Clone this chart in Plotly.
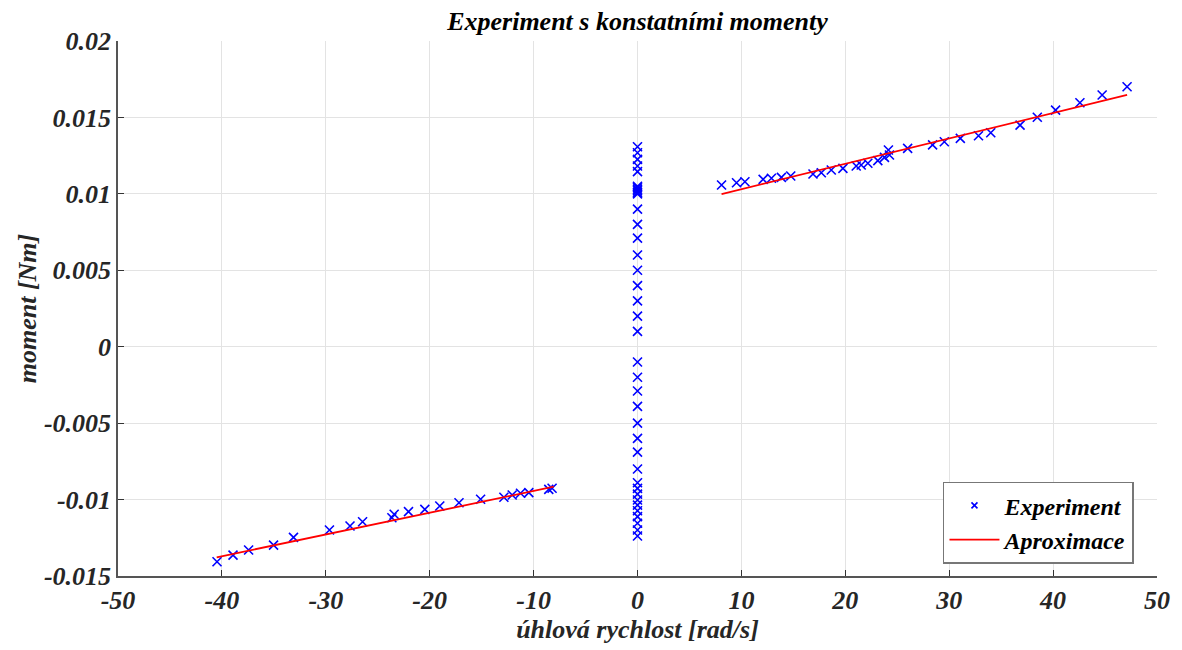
import plotly.graph_objects as go

# Experiment data: negative branch
neg_x = [-40.47, -38.93, -37.43, -35.03, -33.11, -29.65, -27.67, -26.46, -23.64, -23.42,
         -22.04, -20.47, -19.03, -17.18, -15.10, -12.86, -12.06, -11.26, -10.46, -8.54, -8.22]
neg_y = [-0.01407, -0.01363, -0.01330, -0.01298, -0.01247, -0.01199, -0.01173, -0.01145, -0.01119, -0.01096,
         -0.01079, -0.01064, -0.01042, -0.01021, -0.00998, -0.00985, -0.00970, -0.00959, -0.00955, -0.00933, -0.00926]

# Experiment data: positive branch
pos_x = [8.09, 9.53, 10.34, 12.09, 12.89, 13.85, 14.75, 16.89, 17.69, 18.65, 19.77, 21.05, 21.53,
         22.17, 23.13, 23.77, 24.25, 24.15, 26.0, 28.4, 29.53, 31.07, 32.82, 34.0, 36.82, 38.48,
         40.24, 42.58, 44.72, 47.12]
pos_y = [0.01058, 0.01073, 0.01079, 0.01095, 0.01102, 0.01108, 0.01117, 0.01130, 0.01138, 0.01156,
         0.01167, 0.01182, 0.01189, 0.01200, 0.01217, 0.01239, 0.01254, 0.01287, 0.01298, 0.01320,
         0.01341, 0.01363, 0.01380, 0.01400, 0.01450, 0.01501, 0.01548, 0.01596, 0.01647, 0.01701]

# Experiment data: zero velocity
zero_y = [0.01308, 0.01269, 0.01226, 0.01182, 0.01145, 0.0105, 0.0104, 0.0103, 0.0102, 0.0101, 0.0100,
          0.0090, 0.0080, 0.0071, 0.0060, 0.0050, 0.0040, 0.0030, 0.0020, 0.0010,
          -0.0010, -0.0020, -0.0029, -0.0039, -0.0050, -0.0060, -0.0069, -0.0080, -0.0089,
          -0.00927, -0.00964, -0.01003, -0.01036, -0.01073, -0.01112, -0.01155, -0.01199, -0.01238]
zero_x = [0.0] * len(zero_y)

# Approximation lines (endpoints)
apx_neg_x = [-40.5, -8.06]
apx_neg_y = [-0.01378, -0.00916]
apx_pos_x = [8.09, 47.12]
apx_pos_y = [0.00999, 0.01647]

x_ticks = [-50, -40, -30, -20, -10, 0, 10, 20, 30, 40, 50]
y_ticks = [0.02, 0.015, 0.01, 0.005, 0, -0.005, -0.01, -0.015]
y_ticktext = ["0.02", "0.015", "0.01", "0.005", "0", "-0.005", "-0.01", "-0.015"]

FONT = "Liberation Serif"
TXT = "#262626"
exp_x = neg_x + zero_x + pos_x
exp_y = neg_y + zero_y + pos_y

fig = go.Figure()
fig.add_trace(go.Scatter(
    x=exp_x, y=exp_y, mode="markers", name="Experiment", showlegend=False,
    marker=dict(symbol="x-thin", size=9, color="blue", line=dict(color="blue", width=1.6)),
))
fig.add_trace(go.Scatter(
    x=apx_neg_x + [None] + apx_pos_x, y=apx_neg_y + [None] + apx_pos_y,
    mode="lines", name="Aproximace", showlegend=False, line=dict(color="red", width=1.8),
))
# legend entries
fig.add_trace(go.Scatter(
    x=[None], y=[None], mode="markers", name="<b><i>Experiment</i></b>",
    marker=dict(symbol="x-thin", size=6, color="blue", line=dict(color="blue", width=1.6)),
))
fig.add_trace(go.Scatter(
    x=[None], y=[None], mode="lines", name="<b><i>Aproximace</i></b>",
    line=dict(color="red", width=1.8),
))

fig.update_layout(
    width=1182, height=650,
    margin=dict(l=118, r=22, t=41, b=74),
    paper_bgcolor="white", plot_bgcolor="white",
    font=dict(family=FONT, color=TXT),
    title=dict(text="<b><i>Experiment s konstatními momenty</i></b>", xref="paper", x=0.5, xanchor="center",
               yref="container", y=0.968, yanchor="middle", font=dict(size=26, family=FONT, color="#000")),
    showlegend=True,
    legend=dict(x=0.794, y=0.176, xanchor="left", yanchor="top",
                bgcolor="white", bordercolor="#777", borderwidth=1.5,
                font=dict(size=24, family=FONT, color="#000"),
                tracegroupgap=0, itemwidth=50),
)
fig.update_xaxes(
    range=[-50, 50], tickvals=x_ticks, ticktext=[f"<b><i>{v}</i></b>" for v in x_ticks],
    showgrid=True, gridcolor="#e3e3e3", gridwidth=1, zeroline=False,
    showline=True, linecolor="#555", linewidth=1.5, mirror=False,
    ticks="inside", ticklen=6, tickcolor="#333", tickwidth=1.2,
    tickfont=dict(size=26, family=FONT, color=TXT),
    title=dict(text="<b><i>úhlová rychlost [rad/s]</i></b>", font=dict(size=26, family=FONT, color=TXT), standoff=4),
)
fig.update_yaxes(
    range=[-0.015, 0.02], tickvals=y_ticks, ticktext=[f"<b><i>{t}</i></b>" for t in y_ticktext],
    showgrid=True, gridcolor="#e3e3e3", gridwidth=1, zeroline=False,
    showline=True, linecolor="#555", linewidth=1.5, mirror=False,
    ticks="inside", ticklen=6, tickcolor="#333", tickwidth=1.2,
    tickfont=dict(size=26, family=FONT, color=TXT),
    title=dict(text="<b><i>moment [Nm]</i></b>", font=dict(size=26, family=FONT, color=TXT), standoff=0),
)

fig.write_html("out.html")
